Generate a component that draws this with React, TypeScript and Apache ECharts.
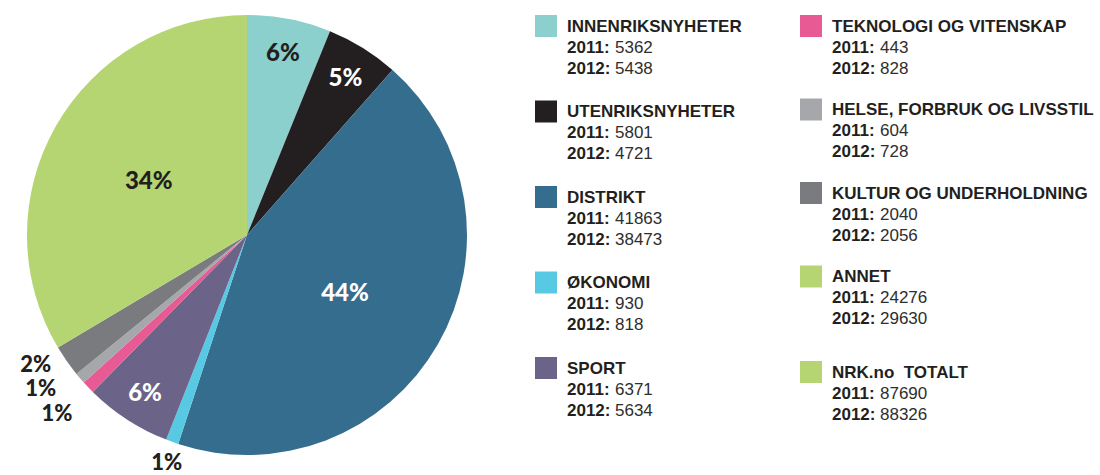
import React, { useEffect, useRef } from 'react';
import * as echarts from 'echarts';

// ---- data ----
const categories = [
  'INNENRIKSNYHETER',
  'UTENRIKSNYHETER',
  'DISTRIKT',
  'ØKONOMI',
  'SPORT',
  'TEKNOLOGI OG VITENSKAP',
  'HELSE, FORBRUK OG LIVSSTIL',
  'KULTUR OG UNDERHOLDNING',
  'ANNET',
];
const values2011 = [5362, 5801, 41863, 930, 6371, 443, 604, 2040, 24276];
const values2012 = [5438, 4721, 38473, 818, 5634, 828, 728, 2056, 29630];
const totalLabel = 'NRK.no  TOTALT';
const total2011 = 87690;
const total2012 = 88326;
const yearLabels = ['2011:', '2012:'];

// ---- styles ----
const sliceColors = ['#8bd0cc', '#231f20', '#356d8f', '#58c9e3', '#6b6388', '#e85a93', '#a6a7aa', '#7a7b7e', '#b5d573'];
const lightSlices = new Set([0, 8]);
const DARK = '#231f20';
// small nudges for the crowded outer labels (by data index)
const labelNudge: Record<number, [number, number]> = {
  3: [4, -7],
  5: [-11, 6],
  6: [-18, -9],
  7: [-8, -14],
};

export default function App() {
  const ref = useRef<HTMLDivElement>(null);
  useEffect(() => {
    document.body.style.margin = '0';
    const chart = echarts.init(ref.current!, null, { renderer: 'svg' });
    const CX = 247, CY = 235, R = 220;
    const total = values2012.reduce((a, b) => a + b, 0);
    const ring = (v: number) => {
      const p = (v / total) * 100;
      return p >= 20 ? 0 : p >= 4 ? 1 : 2;
    };
    const mkData = (ringIdx: number, transparent: boolean) =>
      categories.map((name, i) => ({
        name,
        value: values2012[i],
        itemStyle: { color: transparent ? 'rgba(0,0,0,0)' : sliceColors[i] },
        label: {
          show: ring(values2012[i]) === ringIdx,
          color: ringIdx === 2 || lightSlices.has(i) ? DARK : '#ffffff',
        },
      }));
    const labelStyle = {
      position: 'inside',
      formatter: (p: any) => `${Math.round(p.percent)}%`,
      fontFamily: 'Lato',
      fontWeight: 900,
      fontSize: 24,
      lineHeight: 18,
    };
    const baseSeries = {
      type: 'pie',
      center: [CX, CY],
      startAngle: 90,
      clockwise: true,
      silent: true,
      emphasis: { disabled: true },
      labelLine: { show: false },
      avoidLabelOverlap: false,
    };

    // legend built from the data arrays
    const FONT = '"Liberation Sans", Arial, sans-serif';
    const items = [
      ...categories.map((name, i) => ({ name, v: [values2011[i], values2012[i]], color: sliceColors[i] })),
      { name: totalLabel, v: [total2011, total2012], color: sliceColors[8] },
    ];
    const graphics: any[] = [];
    items.forEach((it, idx) => {
      const col = idx < 5 ? 0 : 1;
      const row = idx < 5 ? idx : idx - 5;
      const x = col === 0 ? 535 : 800;
      const y = col === 0 ? 15 + row * 85.5 : 15 + row * 83.5 + (idx === 9 ? 12 : 0);
      graphics.push({ type: 'rect', shape: { x, y, width: 22, height: 22 }, style: { fill: it.color } });
      graphics.push({
        type: 'text',
        x: x + 32,
        y: y + 11,
        style: {
          text: it.name,
          fontFamily: FONT,
          fontWeight: 'bold',
          fontSize: 17,
          fill: DARK,
          verticalAlign: 'middle',
        },
      });
      yearLabels.forEach((yl, k) => {
        graphics.push({
          type: 'text',
          x: x + 32,
          y: y + 32 + k * 21,
          style: {
            text: yl,
            fontFamily: FONT,
            fontWeight: 'bold',
            fontSize: 17,
            fill: DARK,
            verticalAlign: 'middle',
          },
        });
        graphics.push({
          type: 'text',
          x: x + 32 + 48,
          y: y + 32 + k * 21,
          style: {
            text: String(it.v[k]),
            fontFamily: FONT,
            fontWeight: 'normal',
            fontSize: 17,
            fill: '#2e2e2e',
            verticalAlign: 'middle',
          },
        });
      });
    });

    chart.setOption({
      animation: false,
      backgroundColor: '#ffffff',
      series: [
        { ...baseSeries, z: 2, radius: R, data: mkData(0, false), label: labelStyle },
        { ...baseSeries, z: 3, radius: 368, data: mkData(1, true), label: labelStyle },
        {
          ...baseSeries,
          z: 3,
          radius: 490,
          data: mkData(2, true),
          label: { ...labelStyle, fontSize: 22 },
          labelLayout: (p: any) => {
            const n = labelNudge[p.dataIndex];
            return n ? { dx: n[0], dy: n[1] } : {};
          },
        },
      ],
      graphic: graphics,
    });
    return () => chart.dispose();
  }, []);
  return <div ref={ref} style={{ position: 'fixed', left: 0, top: 0, width: 1100, height: 475 }} />;
}
